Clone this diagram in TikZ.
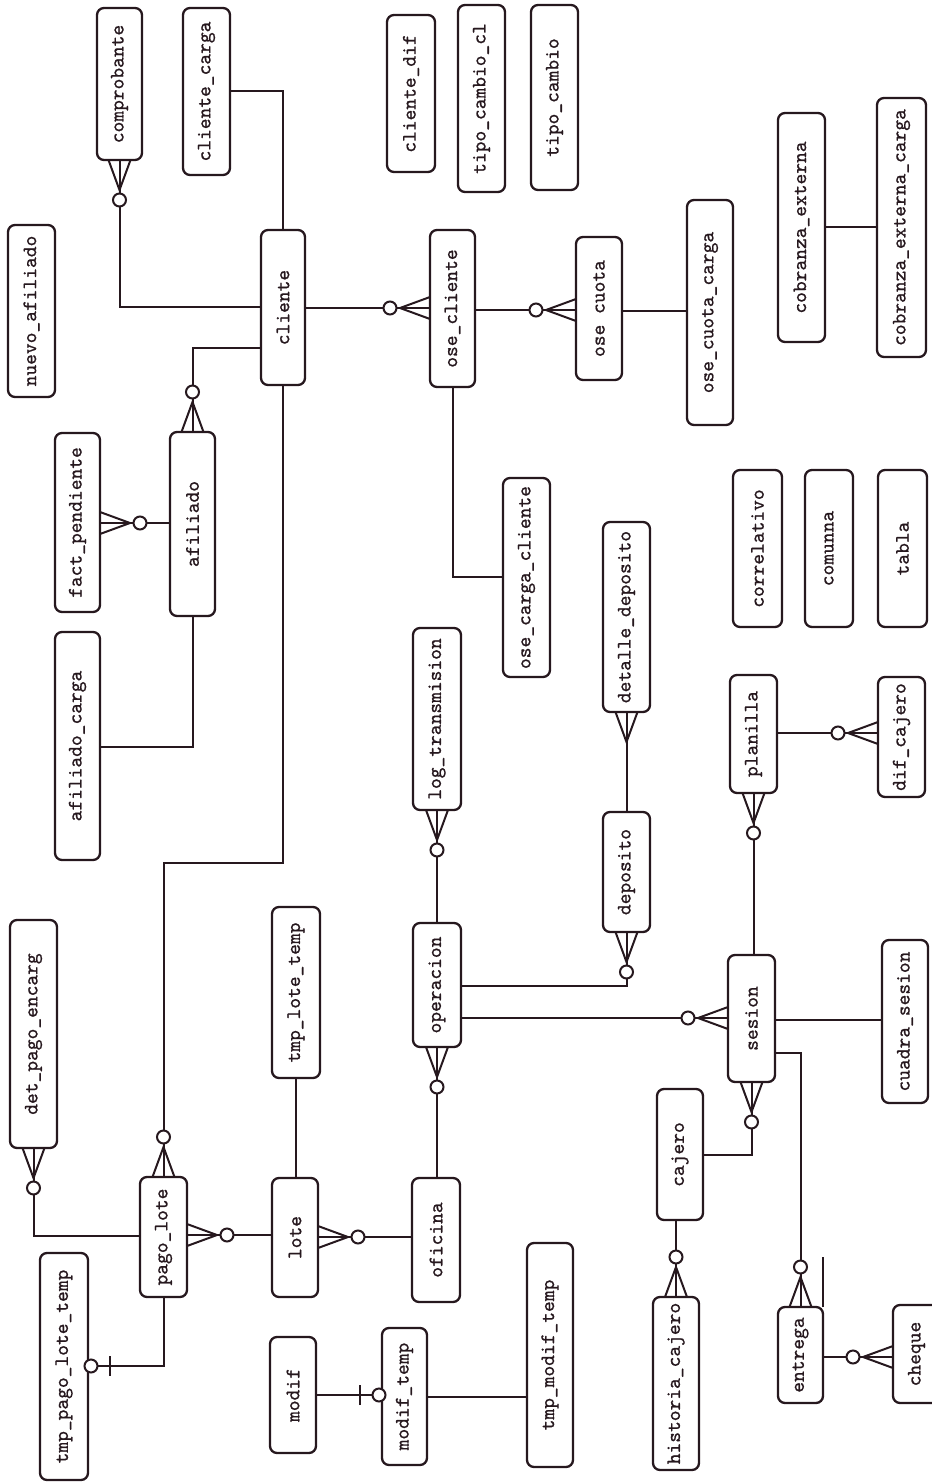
\documentclass[tikz,border=0pt]{standalone}
\usepackage{fontspec}
\newfontfamily\entfont{lmmono10-regular.otf}[FakeBold=0.8]
\usepackage{xcolor}
\definecolor{ink}{RGB}{38,24,30}
\tikzset{
  ent/.style={draw=ink, line width=2.3pt, rounded corners=7pt, fill=white, inner sep=0pt, outer sep=0pt, text=ink, font=\entfont\bfseries\fontsize{20.5}{22}\selectfont},
  conn/.style={draw=ink, line width=2pt},
  zmany/.pic={\draw[conn] (0,11)--(30,0)--(0,-11); \draw[conn] (0,0)--(30,0); \draw[conn, fill=white] (40,0) circle[radius=6.5];},
  onlymany/.pic={\draw[conn] (0,11)--(30,0)--(0,-11); \draw[conn] (0,0)--(30,0);},
  zone/.pic={\draw[conn] (22,-10)--(22,10); \draw[conn,fill=white] (3,0) circle[radius=6.5];}
}
\newcommand\ent[6]{\node[ent, minimum width={(#4-#2)*1pt}, minimum height={(#5-#3)*1pt}] (#1) at ({(#2+#4)/2},{(#3+#5)/2}) {\rotatebox{90}{#6}};}
\begin{document}
\begin{tikzpicture}[x=1pt,y=-1pt]
\useasboundingbox (0,0) rectangle (932,1484);
\clip (0,0) rectangle (932,1484);
% entities
\ent{comprobante}{97}{8}{142}{160}{comprobante}
\ent{clientecarga}{183}{8}{230}{175}{cliente\_carga}
\ent{clientedif}{387}{15}{435}{172}{cliente\_dif}
\ent{tipocambiocl}{458}{5}{505}{192}{tipo\_cambio\_cl}
\ent{tipocambio}{531}{5}{578}{190}{tipo\_cambio}
\ent{nuevoafiliado}{8}{225}{55}{397}{nuevo\_afiliado}
\ent{cliente}{261}{230}{305}{385}{cliente}
\ent{osecliente}{430}{230}{475}{387}{ose\_cliente}
\ent{osecuota}{576}{237}{622}{380}{ose cuota}
\ent{osecuotacarga}{687}{200}{733}{425}{ose\_cuota\_carga}
\ent{cobranza}{778}{113}{825}{342}{cobranza\_externa}
\ent{cobranzacarga}{877}{98}{926}{357}{cobranza\_externa\_carga}
\ent{factpendiente}{55}{433}{100}{612}{fact\_pendiente}
\ent{afiliado}{170}{432}{215}{616}{afiliado}
\ent{afiliadocarga}{55}{632}{100}{860}{afiliado\_carga}
\ent{osecargacliente}{503}{478}{550}{677}{ose\_carga\_cliente}
\ent{detalledeposito}{603}{522}{650}{712}{detalle\_deposito}
\ent{correlativo}{733}{470}{782}{627}{correlativo}
\ent{comunna}{805}{470}{853}{627}{comunna}
\ent{tabla}{878}{470}{927}{627}{tabla}
\ent{logtransmision}{413}{628}{461}{810}{log\_transmision}
\ent{planilla}{730}{675}{777}{793}{planilla}
\ent{difcajero}{878}{677}{925}{797}{dif\_cajero}
\ent{deposito}{603}{812}{650}{932}{deposito}
\ent{detpagoencarg}{10}{920}{57}{1148}{det\_pago\_encarg}
\ent{tmplotetemp}{272}{907}{320}{1078}{tmp\_lote\_temp}
\ent{operacion}{413}{923}{461}{1047}{operacion}
\ent{sesion}{728}{955}{775}{1082}{sesion}
\ent{cuadrasesion}{882}{940}{928}{1103}{cuadra\_sesion}
\ent{cajero}{657}{1089}{703}{1220}{cajero}
\ent{pagolote}{140}{1177}{187}{1297}{pago\_lote}
\ent{lote}{272}{1178}{318}{1297}{lote}
\ent{oficina}{412}{1178}{460}{1302}{oficina}
\ent{tmppagolotetemp}{40}{1253}{88}{1480}{tmp\_pago\_lote\_temp}
\ent{modif}{270}{1337}{316}{1453}{modif}
\ent{modiftemp}{382}{1328}{427}{1465}{modif\_temp}
\ent{tmpmodiftemp}{527}{1243}{573}{1467}{tmp\_modif\_temp}
\ent{historiacajero}{653}{1297}{699}{1470}{historia\_cajero}
\ent{entrega}{778}{1307}{823}{1403}{entrega}
\ent{cheque}{893}{1305}{940}{1403}{cheque}
% connectors
\draw[conn] (comprobante.south) |- (cliente.west |- 0,307);
\draw[conn] (clientecarga.east |- 0,91) -| (cliente.north);
\draw[conn] (cliente.east |- 0,308) -- (osecliente.west |- 0,308);
\draw[conn] (cliente.west |- 0,348) -| (afiliado.north);
\draw[conn] (cliente.south) -- (cliente.south |- 0,863) -| (pagolote.north);
\draw[conn] (osecliente.east |- 0,310) -- (osecuota.west |- 0,310);
\draw[conn] (osecuota.east |- 0,311) -- (osecuotacarga.west |- 0,311);
\draw[conn] (osecliente.south) |- (osecargacliente.west |- 0,577);
\draw[conn] (cobranza.east |- 0,227) -- (cobranzacarga.west |- 0,227);
\draw[conn] (afiliado.west |- 0,523) -- (factpendiente.east |- 0,523);
\draw[conn] (afiliado.south) |- (afiliadocarga.east |- 0,747);
\draw[conn] (logtransmision.south) -- (operacion.north);
\draw[conn] (operacion.south) -- (operacion.south |- oficina.north);
\draw[conn] (tmplotetemp.south) -- (tmplotetemp.south |- lote.north);
\draw[conn] (detalledeposito.south) -- (deposito.north);
\draw[conn] (operacion.east |- 0,986) -| (deposito.south);
\draw[conn] (operacion.east |- 0,1018) -- (sesion.west |- 0,1018);
\draw[conn] (planilla.south) -- (planilla.south |- sesion.north);
\draw[conn] (planilla.east |- 0,733) -- (difcajero.west |- 0,733);
\draw[conn] (sesion.east |- 0,1020) -- (cuadrasesion.west |- 0,1020);
\draw[conn] (sesion.south) -- (sesion.south |- 0,1155) -- (cajero.east |- 0,1155);
\draw[conn] (sesion.east |- 0,1053) -| (entrega.north);
\draw[conn] (historiacajero.north) -- (historiacajero.north |- cajero.south);
\draw[conn] (entrega.east |- 0,1357) -- (cheque.west |- 0,1357);
\draw[conn] (detpagoencarg.south) |- (pagolote.west |- 0,1236);
\draw[conn] (pagolote.east |- 0,1235) -- (lote.west |- 0,1235);
\draw[conn] (lote.east |- 0,1237) -- (oficina.west |- 0,1237);
\draw[conn] (pagolote.south) |- (tmppagolotetemp.east |- 0,1366);
\draw[conn] (modif.east |- 0,1395) -- (modiftemp.west |- 0,1395);
\draw[conn] (modiftemp.east |- 0,1397) -- (tmpmodiftemp.west |- 0,1397);
\draw[conn, line width=1.4pt] (entrega.north east) -- ++(0,-50);
% cardinality symbols
\pic[rotate=-90] at (comprobante.south) {zmany};
\pic[rotate=180] at (osecliente.west |- 0,308) {zmany};
\pic[rotate=90] at (afiliado.north) {zmany};
\pic[rotate=90] at (pagolote.north) {zmany};
\pic[rotate=180] at (osecuota.west |- 0,310) {zmany};
\pic[rotate=0] at (factpendiente.east |- 0,523) {zmany};
\pic[rotate=-90] at (logtransmision.south) {zmany};
\pic[rotate=-90] at (operacion.south) {zmany};
\pic[rotate=-90] at (detalledeposito.south) {onlymany};
\pic[rotate=-90] at (deposito.south) {zmany};
\pic[rotate=180] at (sesion.west |- 0,1018) {zmany};
\pic[rotate=-90] at (planilla.south) {zmany};
\pic[rotate=180] at (difcajero.west |- 0,733) {zmany};
\pic[rotate=-90] at (sesion.south) {zmany};
\pic[rotate=90] at (entrega.north) {zmany};
\pic[rotate=90] at (historiacajero.north) {zmany};
\pic[rotate=180] at (cheque.west |- 0,1357) {zmany};
\pic[rotate=-90] at (detpagoencarg.south) {zmany};
\pic[rotate=0] at (pagolote.east |- 0,1235) {zmany};
\pic[rotate=0] at (lote.east |- 0,1237) {zmany};
\pic[rotate=0] at (tmppagolotetemp.east |- 0,1366) {zone};
\pic[rotate=180] at (modiftemp.west |- 0,1395) {zone};
\end{tikzpicture}
\end{document}
